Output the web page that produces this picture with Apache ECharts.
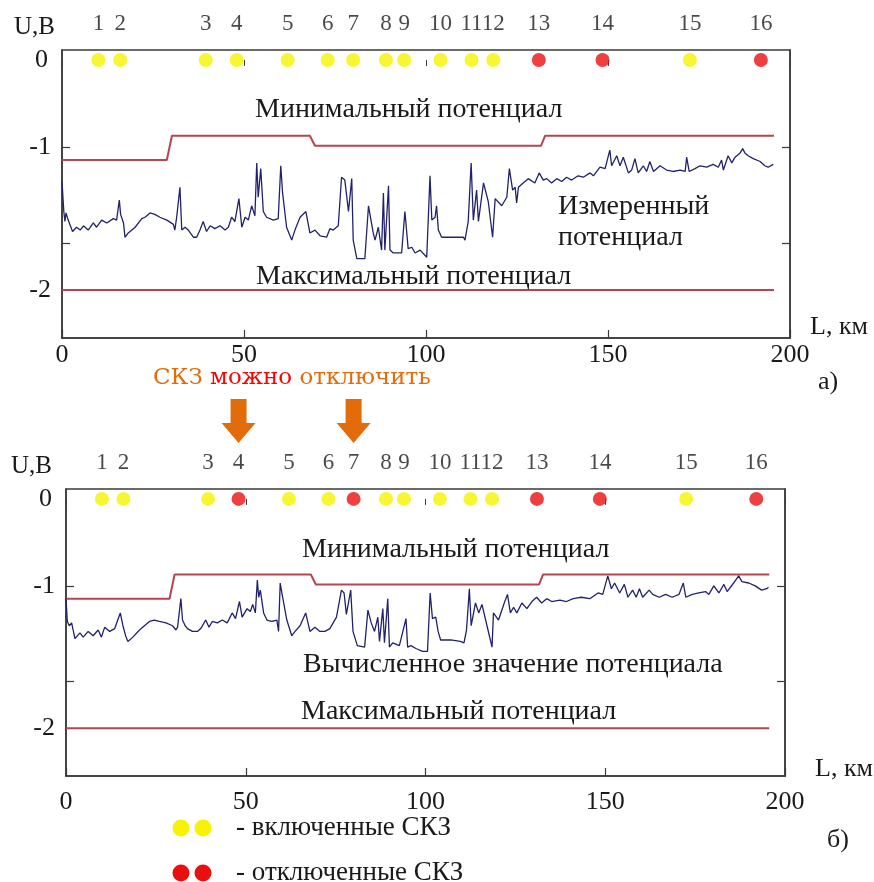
<!DOCTYPE html>
<html>
<head>
<meta charset="utf-8">
<script src="https://cdn.jsdelivr.net/npm/echarts@6/dist/echarts.min.js"></script>
<style>
html,body{margin:0;padding:0;background:#fff;}
#chart{width:874px;height:882px;}
</style>
</head>
<body>
<div id="chart"></div>
<script>
// ---------------- DATA ----------------
const stationNames = ['1','2','3','4','5','6','7','8','9','10','11','12','13','14','15','16'];
const stationKm = [10,16,39.5,48,62,73,80,89,94,104,112.5,118.5,131,148.5,172.5,192];
// 1 = включена (yellow), 0 = отключена (red)
const stateTop    = [1,1,1,1,1,1,1,1,1,1,1,1,0,0,1,0];
const stateBottom = [1,1,1,0,1,1,0,1,1,1,1,1,0,0,1,0];
const arrowStations = ['4','7'];

const xTicks = [0,50,100,150,200];
const yTickLabels = [-1,-2];
const yTickMarks = [-1,-1.67];
const zeroLabel = [0];

// Минимальный потенциал (km, V)
const minPotential = [[0,-1.09],[28.8,-1.09],[30.2,-0.92],[68.1,-0.92],[69.5,-0.99],[131.6,-0.99],[132.7,-0.92],[195.6,-0.92]];
// Максимальный потенциал
const maxPotential = [[0,-2],[195.6,-2]];

// Измеренный потенциал (a)
const measured = [[0.0,-1.24],[0.5,-1.45],[0.8,-1.52],[1.1,-1.46],[1.7,-1.51],[2.9,-1.59],[4.0,-1.56],[5.0,-1.58],[5.9,-1.55],[7.2,-1.58],[8.6,-1.53],[9.5,-1.56],[10.9,-1.51],[12.3,-1.53],[14.1,-1.50],[15.0,-1.51],[15.75,-1.37],[16.1,-1.47],[16.9,-1.53],[17.3,-1.63],[18.2,-1.60],[20.1,-1.56],[21.9,-1.50],[22.8,-1.49],[24.2,-1.46],[25.5,-1.47],[26.9,-1.49],[28.8,-1.51],[30.6,-1.54],[31.0,-1.58],[31.5,-1.49],[32.4,-1.28],[32.9,-1.58],[33.8,-1.56],[34.7,-1.58],[36.1,-1.63],[37.0,-1.63],[37.9,-1.58],[38.8,-1.52],[39.7,-1.59],[40.7,-1.55],[42.0,-1.57],[43.4,-1.55],[44.8,-1.58],[45.7,-1.56],[46.6,-1.49],[47.5,-1.52],[48.6,-1.36],[49.4,-1.56],[50.3,-1.49],[51.2,-1.51],[52.1,-1.41],[53.0,-1.48],[53.5,-1.11],[53.9,-1.35],[54.6,-1.15],[55.3,-1.45],[56.2,-1.49],[58.1,-1.51],[59.4,-1.50],[60.1,-1.13],[60.6,-1.32],[61.7,-1.56],[63.1,-1.65],[64.0,-1.58],[65.4,-1.49],[67.0,-1.45],[68.1,-1.60],[69.5,-1.58],[70.9,-1.62],[72.7,-1.63],[73.6,-1.57],[74.5,-1.58],[75.9,-1.55],[76.8,-1.21],[77.7,-1.23],[78.7,-1.45],[79.6,-1.22],[80.0,-1.65],[81.0,-1.78],[83.2,-1.78],[84.2,-1.41],[85.5,-1.60],[86.0,-1.65],[86.9,-1.56],[87.8,-1.72],[88.3,-1.32],[88.7,-1.72],[89.7,-1.27],[90.1,-1.72],[91.0,-1.74],[93.3,-1.74],[94.2,-1.45],[95.1,-1.71],[96.1,-1.70],[97.0,-1.74],[98.4,-1.72],[100.2,-1.77],[101.1,-1.20],[101.6,-1.51],[102.5,-1.49],[102.9,-1.41],[103.4,-1.58],[104.3,-1.63],[105.7,-1.63],[110.3,-1.63],[110.7,-1.65],[111.6,-1.52],[112.4,-1.11],[113.0,-1.51],[113.9,-1.30],[114.4,-1.52],[115.8,-1.25],[117.1,-1.38],[118.3,-1.63],[119.0,-1.36],[120.8,-1.41],[122.2,-1.35],[122.9,-1.15],[123.8,-1.30],[124.5,-1.28],[124.9,-1.39],[125.4,-1.28],[126.7,-1.25],[128.1,-1.22],[129.9,-1.25],[131.1,-1.18],[132.2,-1.23],[133.2,-1.22],[134.5,-1.25],[135.9,-1.22],[137.3,-1.24],[138.6,-1.21],[140.0,-1.23],[141.8,-1.20],[143.2,-1.21],[145.1,-1.18],[146.0,-1.20],[147.8,-1.14],[149.2,-1.15],[150.5,-1.02],[151.0,-1.13],[152.4,-1.06],[153.3,-1.13],[154.2,-1.07],[155.6,-1.18],[156.5,-1.16],[157.4,-1.08],[158.3,-1.18],[159.7,-1.13],[160.6,-1.17],[161.5,-1.10],[162.5,-1.17],[164.3,-1.13],[166.1,-1.16],[167.9,-1.17],[169.8,-1.16],[171.2,-1.17],[171.6,-1.07],[172.3,-1.17],[173.9,-1.15],[175.3,-1.13],[177.1,-1.14],[178.9,-1.12],[180.3,-1.14],[181.2,-1.09],[181.7,-1.16],[183.0,-1.06],[184.0,-1.11],[184.9,-1.07],[186.3,-1.04],[187.0,-1.01],[187.6,-1.04],[188.5,-1.06],[189.9,-1.08],[191.8,-1.10],[193.1,-1.13],[194.0,-1.14],[195.4,-1.12]];

// Вычисленное значение потенциала (б)
const computed = [[0,-1.09],[0.37,-1.25],[0.92,-1.28],[1.57,-1.26],[2.49,-1.37],[3.87,-1.33],[4.79,-1.36],[6.17,-1.32],[7.55,-1.35],[8.93,-1.31],[9.85,-1.36],[10.77,-1.29],[12.15,-1.32],[13.54,-1.30],[15.1,-1.19],[15.84,-1.28],[16.57,-1.35],[17.22,-1.39],[18.6,-1.36],[20.44,-1.31],[21.82,-1.28],[23.2,-1.25],[24.59,-1.24],[25.97,-1.25],[27.81,-1.26],[29.65,-1.28],[30.57,-1.31],[31.03,-1.29],[31.95,-1.09],[32.41,-1.24],[33.15,-1.28],[33.79,-1.30],[35.17,-1.32],[36.56,-1.32],[37.48,-1.30],[38.86,-1.24],[39.78,-1.29],[40.7,-1.25],[42.08,-1.26],[43.46,-1.24],[44.84,-1.26],[46.22,-1.19],[47.15,-1.23],[48.25,-1.11],[48.99,-1.22],[50.37,-1.16],[51.29,-1.18],[51.93,-1.13],[52.67,-1.19],[53.22,-0.96],[53.59,-1.08],[54.05,-1.03],[54.97,-1.19],[55.89,-1.24],[57.27,-1.25],[58.66,-1.24],[59.12,-1.32],[59.58,-0.98],[60.04,-1.05],[61.42,-1.24],[62.8,-1.35],[63.72,-1.32],[65.1,-1.28],[66.67,-1.19],[67.86,-1.32],[69.25,-1.29],[70.63,-1.32],[72.01,-1.32],[73.39,-1.30],[74.31,-1.26],[75.23,-1.22],[76.61,-1.03],[77.35,-1.05],[77.99,-1.20],[79.19,-1.03],[79.83,-1.32],[81.03,-1.42],[83.06,-1.43],[83.98,-1.17],[84.9,-1.26],[85.82,-1.32],[86.74,-1.22],[87.2,-1.39],[88.12,-1.16],[88.58,-1.40],[89.5,-1.09],[89.96,-1.43],[90.88,-1.40],[92.73,-1.42],[94.57,-1.23],[95.03,-1.43],[95.95,-1.42],[97.33,-1.44],[99.17,-1.46],[100.55,-1.46],[101.29,-1.05],[101.93,-1.23],[102.85,-1.22],[103.5,-1.32],[104.2,-1.38],[107.0,-1.38],[109.7,-1.39],[110.7,-1.40],[111.4,-1.31],[112.2,-1.02],[112.7,-1.28],[113.9,-1.12],[114.8,-1.19],[115.7,-1.13],[117.1,-1.28],[118.5,-1.43],[118.9,-1.19],[120.3,-1.24],[121.9,-1.12],[122.8,-1.06],[123.6,-1.19],[124.5,-1.15],[125.4,-1.19],[126.8,-1.12],[128.2,-1.16],[129.6,-1.11],[130.9,-1.08],[132.3,-1.12],[133.7,-1.09],[135.1,-1.11],[137.4,-1.10],[139.2,-1.11],[141.1,-1.09],[143.3,-1.08],[145.7,-1.09],[148.0,-1.05],[149.3,-1.06],[150.7,-0.93],[151.7,-1.02],[152.6,-0.98],[154.0,-1.05],[155.3,-0.99],[156.3,-1.08],[157.6,-1.03],[158.6,-1.08],[159.5,-1.02],[160.4,-1.08],[162.2,-1.03],[163.2,-1.06],[165.0,-1.08],[166.8,-1.06],[168.6,-1.08],[170.5,-1.06],[171.7,-0.98],[172.4,-1.08],[174.2,-1.06],[176.0,-1.05],[177.9,-1.04],[178.8,-1.06],[180.2,-1.00],[181.6,-1.05],[183.0,-0.99],[183.9,-1.04],[185.7,-0.98],[187.1,-0.93],[188.0,-0.97],[189.9,-0.98],[191.7,-1.00],[193.5,-1.03],[194.9,-1.02],[195.4,-1.01]];

// ---------------- STYLE ----------------
const SERIF = 'Liberation Serif';
const TXT = '#1a1a1a';
const FRAME = '#3a3a3a';
const RED_LINE = '#b8444f';
const BLUE_LINE = '#22226c';
const YELLOW = '#f6f200';
const RED_DOT = '#ea1010';
const ORANGE = '#e36c0a';

const chart = echarts.init(document.getElementById('chart'), null, {renderer: 'canvas'});

function stationData(states) {
  return stationNames.map((n, i) => ({
    name: n,
    value: [stationKm[i], 0],
    itemStyle: {color: states[i] ? YELLOW : RED_DOT}
  }));
}

function xMain(gi, labelMargin, nameGap, nameLH) {
  return {
    gridIndex: gi, type: 'value', min: 0, max: 200, interval: 50, position: 'bottom',
    axisLine: {show: true, onZero: false, lineStyle: {color: FRAME, width: 1.5}},
    axisTick: {show: true, inside: true, length: 8, lineStyle: {color: FRAME, width: 1.2}},
    axisLabel: {fontFamily: SERIF, fontSize: 26, color: TXT, margin: labelMargin},
    splitLine: {show: false},
    name: 'L, км', nameLocation: 'end', nameGap: nameGap,
    nameTextStyle: {fontFamily: SERIF, fontSize: 26, color: TXT, align: 'left', verticalAlign: 'bottom', lineHeight: nameLH}
  };
}
function xTop(gi) {
  return {
    gridIndex: gi, type: 'value', min: 0, max: 200, interval: 50, position: 'top',
    axisLine: {show: false}, axisTick: {show: true, inside: true, length: 6, lineStyle: {color: FRAME}},
    axisLabel: {show: false}, splitLine: {show: false}
  };
}
const YMIN = -2.335, YMAX = -0.32;
function yMain(gi, margin, namePadRight) {
  return {
    gridIndex: gi, type: 'value', min: YMIN, max: YMAX, position: 'left',
    axisLine: {show: true, onZero: false, lineStyle: {color: FRAME, width: 1.5}},
    axisTick: {show: true, inside: true, length: 8, customValues: yTickMarks, lineStyle: {color: FRAME, width: 1.2}},
    axisLabel: {customValues: yTickLabels, fontFamily: SERIF, fontSize: 26, color: TXT, margin: margin,
      formatter: v => String(v)},
    splitLine: {show: false},
    name: 'U,B', nameLocation: 'end', nameGap: 10,
    nameTextStyle: {fontFamily: SERIF, fontSize: 25, color: TXT, align: 'right', padding: [0, namePadRight, 0, 0]}
  };
}
function yDots(gi) {
  return {
    gridIndex: gi, type: 'value', min: -2.8, max: 0.1, position: 'left',
    axisLine: {show: false}, axisTick: {show: false},
    axisLabel: {customValues: zeroLabel, fontFamily: SERIF, fontSize: 26, color: TXT, margin: 14, formatter: v => String(v)},
    splitLine: {show: false}
  };
}
function yRight(gi) {
  return {
    gridIndex: gi, type: 'value', min: YMIN, max: YMAX, position: 'right',
    axisLine: {show: true, onZero: false, lineStyle: {color: FRAME, width: 1.5}},
    axisTick: {show: true, inside: true, length: 8, customValues: yTickMarks, lineStyle: {color: FRAME, width: 1.2}},
    axisLabel: {show: false}, splitLine: {show: false}
  };
}
function lineSeries(data, xi, yi, color, width, name) {
  return {type: 'line', name: name, data: data, xAxisIndex: xi, yAxisIndex: yi,
    showSymbol: false, symbol: 'none', lineStyle: {color: color, width: width}, z: 3, silent: true};
}
function dotSeries(states, xi, yi) {
  return {type: 'scatter', data: stationData(states), xAxisIndex: xi, yAxisIndex: yi,
    symbolSize: 14, z: 5,
    label: {show: true, position: 'top', distance: 17, formatter: p => p.name,
      fontFamily: SERIF, fontSize: 23, color: TXT}};
}

const option = {
  animation: false,
  backgroundColor: '#ffffff',
  grid: [
    {left: 62, top: 50, width: 728, height: 288, show: true, borderColor: FRAME, borderWidth: 1.5, backgroundColor: 'transparent'},
    {left: 66, top: 489, width: 724, height: 287, show: true, borderColor: FRAME, borderWidth: 1.5, backgroundColor: 'transparent'}
  ],
  xAxis: [xMain(0, 4, 20, 22), xMain(1, 13, 30, 14), xTop(0), xTop(1)],
  yAxis: [yMain(0, 11, 7), yDots(0), yRight(0), yMain(1, 11, 14), yDots(1), yRight(1)],
  series: [
    lineSeries(minPotential, 0, 0, RED_LINE, 2, 'Минимальный потенциал'),
    lineSeries(maxPotential, 0, 0, RED_LINE, 2, 'Максимальный потенциал'),
    lineSeries(measured, 0, 0, BLUE_LINE, 1.3, 'Измеренный потенциал'),
    dotSeries(stateTop, 0, 1),
    lineSeries(minPotential, 1, 3, RED_LINE, 2, 'Минимальный потенциал'),
    lineSeries(maxPotential, 1, 3, RED_LINE, 2, 'Максимальный потенциал'),
    lineSeries(computed, 1, 3, BLUE_LINE, 1.3, 'Вычисленное значение потенциала'),
    dotSeries(stateBottom, 1, 4)
  ]
};
chart.setOption(option);

// ---------------- ANNOTATIONS ----------------
function txt(text, x, y, size, extra) {
  return Object.assign({type: 'text', x: x, y: y, z: 10, silent: true,
    style: Object.assign({text: text, font: size + 'px "' + SERIF + '"', fill: TXT, textAlign: 'left', textVerticalAlign: 'middle'}, extra || {})});
}
const graphics = [
  txt('Минимальный потенциал', 255, 110, 28),
  txt('Измеренный', 558, 207, 28),
  txt('потенциал', 558, 238, 28),
  txt('Максимальный потенциал', 256, 277, 28),
  txt('а)', 818, 382, 26),
  txt('Минимальный потенциал', 302, 550, 28),
  txt('Вычисленное значение потенциала', 303, 665, 28),
  txt('Максимальный потенциал', 301, 712, 28),
  txt('б)', 827, 840, 26),
  txt('- включенные СКЗ', 236, 828, 27),
  txt('- отключенные СКЗ', 236, 873, 27),
  {type: 'text', x: 153, y: 378, z: 10, silent: true,
   style: {
     text: '{o|СКЗ }{r|можно}{o| отключить}',
     textVerticalAlign: 'middle',
     rich: {
       o: {fill: ORANGE, fontFamily: 'DejaVu Serif', fontSize: 23},
       r: {fill: '#ff0000', fontFamily: 'DejaVu Serif', fontSize: 23}
     }
   }},
  {type: 'circle', shape: {cx: 181, cy: 828, r: 8.5}, style: {fill: YELLOW}, silent: true},
  {type: 'circle', shape: {cx: 203, cy: 828, r: 8.5}, style: {fill: YELLOW}, silent: true},
  {type: 'circle', shape: {cx: 181, cy: 873, r: 8.5}, style: {fill: RED_DOT}, silent: true},
  {type: 'circle', shape: {cx: 203, cy: 873, r: 8.5}, style: {fill: RED_DOT}, silent: true}
];
arrowStations.forEach(s => {
  const km = stationKm[stationNames.indexOf(s)];
  const cx = chart.convertToPixel({xAxisIndex: 1}, km);
  graphics.push({type: 'polygon', silent: true, z: 10,
    shape: {points: [[cx-8,399],[cx+8,399],[cx+8,423],[cx+17,423],[cx,443],[cx-17,423],[cx-8,423]]},
    style: {fill: ORANGE}});
});
chart.setOption({graphic: graphics});
</script>
</body>
</html>
